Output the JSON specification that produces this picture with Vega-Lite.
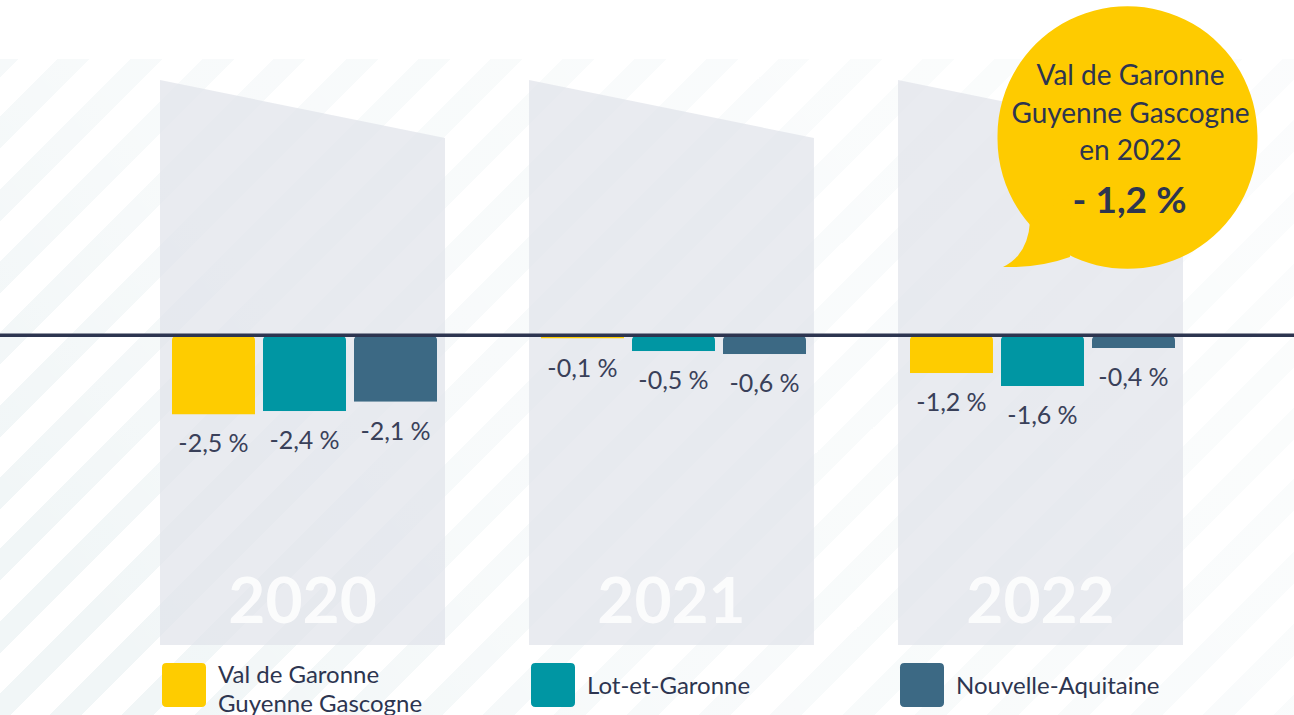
{
  "$schema": "https://vega.github.io/schema/vega-lite/v6.json",
  "width": 1294,
  "height": 715,
  "autosize": {"type": "none"},
  "padding": 0,
  "background": "#ffffff",
  "config": {"view": {"stroke": null}, "font": "Lato"},
  "datasets": {
    "growth": [
      {"year": "2020", "serie": "Val de Garonne Guyenne Gascogne", "value": -2.5, "label": "-2,5\u202f%"},
      {"year": "2020", "serie": "Lot-et-Garonne", "value": -2.4, "label": "-2,4\u202f%"},
      {"year": "2020", "serie": "Nouvelle-Aquitaine", "value": -2.1, "label": "-2,1\u202f%"},
      {"year": "2021", "serie": "Val de Garonne Guyenne Gascogne", "value": -0.1, "label": "-0,1\u202f%"},
      {"year": "2021", "serie": "Lot-et-Garonne", "value": -0.5, "label": "-0,5\u202f%"},
      {"year": "2021", "serie": "Nouvelle-Aquitaine", "value": -0.6, "label": "-0,6\u202f%"},
      {"year": "2022", "serie": "Val de Garonne Guyenne Gascogne", "value": -1.2, "label": "-1,2\u202f%"},
      {"year": "2022", "serie": "Lot-et-Garonne", "value": -1.6, "label": "-1,6\u202f%"},
      {"year": "2022", "serie": "Nouvelle-Aquitaine", "value": -0.4, "label": "-0,4\u202f%"}
    ],
    "years": [{"year": "2020"}, {"year": "2021"}, {"year": "2022"}],
    "callout": [
      {"year": "2022", "serie": "Nouvelle-Aquitaine", "heading": "Val de Garonne|Guyenne Gascogne|en 2022", "figure": "-\u202f1,2\u202f%"}
    ]
  },
  "layer": [
    {
      "data": {"values": [{}]},
      "mark": {
        "type": "rect",
        "color": {
          "gradient": "linear", "x1": 0, "y1": 0, "x2": 1.19885, "y2": 0.60777,
          "stops": [
            {"offset": 0, "color": "#f1f6f7"},
            {"offset": 0.00923, "color": "#f1f6f7"}, {"offset": 0.00923, "color": "#ffffff"},
            {"offset": 0.02974, "color": "#ffffff"}, {"offset": 0.02974, "color": "#f1f6f7"},
            {"offset": 0.04615, "color": "#f1f6f7"}, {"offset": 0.04615, "color": "#ffffff"},
            {"offset": 0.06667, "color": "#ffffff"}, {"offset": 0.06667, "color": "#f1f6f7"},
            {"offset": 0.08308, "color": "#f1f6f7"}, {"offset": 0.08308, "color": "#ffffff"},
            {"offset": 0.10359, "color": "#ffffff"}, {"offset": 0.10359, "color": "#f1f6f7"},
            {"offset": 0.12, "color": "#f1f6f7"}, {"offset": 0.12, "color": "#ffffff"},
            {"offset": 0.14051, "color": "#ffffff"}, {"offset": 0.14051, "color": "#f1f6f7"},
            {"offset": 0.15692, "color": "#f1f6f7"}, {"offset": 0.15692, "color": "#ffffff"},
            {"offset": 0.17744, "color": "#ffffff"}, {"offset": 0.17744, "color": "#f1f6f7"},
            {"offset": 0.19385, "color": "#f1f6f7"}, {"offset": 0.19385, "color": "#ffffff"},
            {"offset": 0.21436, "color": "#ffffff"}, {"offset": 0.21436, "color": "#f1f6f7"},
            {"offset": 0.23077, "color": "#f1f6f7"}, {"offset": 0.23077, "color": "#ffffff"},
            {"offset": 0.25128, "color": "#ffffff"}, {"offset": 0.25128, "color": "#f1f6f7"},
            {"offset": 0.26769, "color": "#f1f6f7"}, {"offset": 0.26769, "color": "#ffffff"},
            {"offset": 0.28821, "color": "#ffffff"}, {"offset": 0.28821, "color": "#f1f6f7"},
            {"offset": 0.30462, "color": "#f1f6f7"}, {"offset": 0.30462, "color": "#ffffff"},
            {"offset": 0.32513, "color": "#ffffff"}, {"offset": 0.32513, "color": "#f1f6f7"},
            {"offset": 0.34154, "color": "#f1f6f7"}, {"offset": 0.34154, "color": "#ffffff"},
            {"offset": 0.36205, "color": "#ffffff"}, {"offset": 0.36205, "color": "#f1f6f7"},
            {"offset": 0.37846, "color": "#f1f6f7"}, {"offset": 0.37846, "color": "#ffffff"},
            {"offset": 0.39897, "color": "#ffffff"}, {"offset": 0.39897, "color": "#f1f6f7"},
            {"offset": 0.41538, "color": "#f1f6f7"}, {"offset": 0.41538, "color": "#ffffff"},
            {"offset": 0.4359, "color": "#ffffff"}, {"offset": 0.4359, "color": "#f1f6f7"},
            {"offset": 0.45231, "color": "#f1f6f7"}, {"offset": 0.45231, "color": "#ffffff"},
            {"offset": 0.47282, "color": "#ffffff"}, {"offset": 0.47282, "color": "#f1f6f7"},
            {"offset": 0.48923, "color": "#f1f6f7"}, {"offset": 0.48923, "color": "#ffffff"},
            {"offset": 0.50974, "color": "#ffffff"}, {"offset": 0.50974, "color": "#f1f6f7"},
            {"offset": 0.52615, "color": "#f1f6f7"}, {"offset": 0.52615, "color": "#ffffff"},
            {"offset": 0.54667, "color": "#ffffff"}, {"offset": 0.54667, "color": "#f1f6f7"},
            {"offset": 0.56308, "color": "#f1f6f7"}, {"offset": 0.56308, "color": "#ffffff"},
            {"offset": 0.58359, "color": "#ffffff"}, {"offset": 0.58359, "color": "#f1f6f7"},
            {"offset": 0.6, "color": "#f1f6f7"}, {"offset": 0.6, "color": "#ffffff"},
            {"offset": 0.62051, "color": "#ffffff"}, {"offset": 0.62051, "color": "#f1f6f7"},
            {"offset": 0.63692, "color": "#f1f6f7"}, {"offset": 0.63692, "color": "#ffffff"},
            {"offset": 0.65744, "color": "#ffffff"}, {"offset": 0.65744, "color": "#f1f6f7"},
            {"offset": 0.67385, "color": "#f1f6f7"}, {"offset": 0.67385, "color": "#ffffff"},
            {"offset": 0.69436, "color": "#ffffff"}, {"offset": 0.69436, "color": "#f1f6f7"},
            {"offset": 0.71077, "color": "#f1f6f7"}, {"offset": 0.71077, "color": "#ffffff"},
            {"offset": 0.73128, "color": "#ffffff"}, {"offset": 0.73128, "color": "#f1f6f7"},
            {"offset": 0.74769, "color": "#f1f6f7"}, {"offset": 0.74769, "color": "#ffffff"},
            {"offset": 0.76821, "color": "#ffffff"}, {"offset": 0.76821, "color": "#f1f6f7"},
            {"offset": 0.78462, "color": "#f1f6f7"}, {"offset": 0.78462, "color": "#ffffff"},
            {"offset": 0.80513, "color": "#ffffff"}, {"offset": 0.80513, "color": "#f1f6f7"},
            {"offset": 0.82154, "color": "#f1f6f7"}, {"offset": 0.82154, "color": "#ffffff"},
            {"offset": 0.84205, "color": "#ffffff"}, {"offset": 0.84205, "color": "#f1f6f7"},
            {"offset": 0.85846, "color": "#f1f6f7"}, {"offset": 0.85846, "color": "#ffffff"},
            {"offset": 0.87897, "color": "#ffffff"}, {"offset": 0.87897, "color": "#f1f6f7"},
            {"offset": 0.89538, "color": "#f1f6f7"}, {"offset": 0.89538, "color": "#ffffff"},
            {"offset": 0.9159, "color": "#ffffff"}, {"offset": 0.9159, "color": "#f1f6f7"},
            {"offset": 0.93231, "color": "#f1f6f7"}, {"offset": 0.93231, "color": "#ffffff"},
            {"offset": 0.95282, "color": "#ffffff"}, {"offset": 0.95282, "color": "#f1f6f7"},
            {"offset": 0.96923, "color": "#f1f6f7"}, {"offset": 0.96923, "color": "#ffffff"},
            {"offset": 0.98974, "color": "#ffffff"}, {"offset": 0.98974, "color": "#f1f6f7"},
            {"offset": 1, "color": "#f1f6f7"}
          ]
        }
      },
      "encoding": {
        "y": {"datum": 8.735, "type": "quantitative", "axis": null, "scale": {"domain": [-12, 10.6], "nice": false, "zero": false}},
        "y2": {"datum": -12}
      }
    },
    {
      "data": {"values": [{}]},
      "mark": {
        "type": "rect",
        "color": {
          "gradient": "linear", "x1": 0, "y1": 0.7, "x2": 1, "y2": 0.3,
          "stops": [
            {"offset": 0, "color": "rgba(255,255,255,0)"},
            {"offset": 0.3, "color": "rgba(255,255,255,0.45)"},
            {"offset": 1, "color": "rgba(255,255,255,0.7)"}
          ]
        }
      },
      "encoding": {
        "y": {"datum": 8.735, "type": "quantitative"},
        "y2": {"datum": -12}
      }
    },
    {
      "data": {"name": "years"},
      "mark": {
        "type": "point",
        "shape": "M-0.5044,-1L0.5044,-0.7947L0.5044,1L-0.5044,1Z",
        "size": 319225,
        "filled": true,
        "fill": "#dfe3e9",
        "opacity": 0.7,
        "strokeWidth": 0
      },
      "encoding": {
        "x": {"field": "year", "type": "nominal", "axis": null, "scale": {"paddingInner": 0.2276, "paddingOuter": 0.3672, "align": 0.5904}},
        "y": {"datum": -0.858, "type": "quantitative"}
      }
    },
    {
      "data": {"name": "years"},
      "mark": {
        "type": "text",
        "font": "Lato",
        "fontSize": 64,
        "fontWeight": "bold",
        "fill": "#ffffff",
        "opacity": 0.85,
        "align": "center",
        "baseline": "alphabetic"
      },
      "encoding": {
        "x": {"field": "year", "type": "nominal"},
        "y": {"datum": -9.09, "type": "quantitative"},
        "text": {"field": "year"}
      }
    },
    {
      "data": {"name": "growth"},
      "mark": {"type": "bar", "cornerRadiusEnd": 5},
      "encoding": {
        "x": {"field": "year", "type": "nominal"},
        "xOffset": {
          "field": "serie", "type": "nominal",
          "sort": ["Val de Garonne Guyenne Gascogne", "Lot-et-Garonne", "Nouvelle-Aquitaine"],
          "scale": {"domain": ["Val de Garonne Guyenne Gascogne", "Lot-et-Garonne", "Nouvelle-Aquitaine"], "paddingInner": 0.0879, "paddingOuter": 0.1099, "align": 0.6}
        },
        "y": {"field": "value", "type": "quantitative"},
        "color": {
          "field": "serie", "type": "nominal",
          "scale": {
            "domain": ["Val de Garonne Guyenne Gascogne", "Lot-et-Garonne", "Nouvelle-Aquitaine"],
            "range": ["#fecc00", "#0096a3", "#3c6984"]
          },
          "legend": {
            "orient": "none",
            "legendX": 162,
            "legendY": 663,
            "direction": "horizontal",
            "title": null,
            "padding": 0,
            "symbolType": "M-0.8,-1H0.8Q1,-1 1,-0.8V0.8Q1,1 0.8,1H-0.8Q-1,1 -1,0.8V-0.8Q-1,-1 -0.8,-1Z",
            "symbolSize": 1936,
            "symbolStrokeWidth": 0,
            "symbolOpacity": 1,
            "labelFont": "Lato",
            "labelFontSize": 24,
            "labelColor": "#2d3550",
            "labelOffset": 12,
            "labelLimit": 400,
            "labelBaseline": "middle",
            "labelExpr": "datum.value == 'Val de Garonne Guyenne Gascogne' ? ['Val de Garonne', 'Guyenne Gascogne'] : [datum.label, ' ']",
            "columnPadding": 108,
            "gridAlign": "all",
            "encode": {
              "labels": {
                "update": {
                  "dy": {"signal": "datum.value == 'Val de Garonne Guyenne Gascogne' ? -9 : 2"},
                  "lineHeight": {"signal": "datum.value == 'Val de Garonne Guyenne Gascogne' ? 29 : 18"}
                }
              }
            }
          }
        }
      }
    },
    {
      "data": {"name": "growth"},
      "mark": {
        "type": "text",
        "font": "Lato",
        "fontSize": 25,
        "fill": "#394059",
        "align": "center",
        "baseline": "alphabetic",
        "dy": 38
      },
      "encoding": {
        "x": {"field": "year", "type": "nominal"},
        "xOffset": {"field": "serie", "type": "nominal", "sort": ["Val de Garonne Guyenne Gascogne", "Lot-et-Garonne", "Nouvelle-Aquitaine"]},
        "y": {"field": "value", "type": "quantitative"},
        "text": {"field": "label"}
      }
    },
    {
      "data": {"values": [{}]},
      "mark": {"type": "rule", "stroke": "#2d3550", "strokeWidth": 3.5},
      "encoding": {
        "y": {"datum": 0, "type": "quantitative"}
      }
    },
    {
      "data": {"name": "callout"},
      "mark": {
        "type": "point",
        "shape": "M-0.9714,0A0.9286,0.9286 0 1,1 0.8857,0A0.9286,0.9286 0 1,1 -0.9714,0Z",
        "size": 78400, "filled": true, "fill": "#fecb00", "opacity": 1, "strokeWidth": 0
      },
      "encoding": {
        "x": {"field": "year", "type": "nominal"},
        "xOffset": {"field": "serie", "type": "nominal", "sort": ["Val de Garonne Guyenne Gascogne", "Lot-et-Garonne", "Nouvelle-Aquitaine"]},
        "y": {"datum": 6.254, "type": "quantitative"}
      }
    },
    {
      "data": {"name": "callout"},
      "mark": {
        "type": "point",
        "shape": "M-0.739,0.6Q-0.754,0.839 -0.932,0.925Q-0.668,0.932 -0.454,0.854L-0.443,0.4Z",
        "size": 78400, "filled": true, "fill": "#fecb00", "opacity": 1, "strokeWidth": 0
      },
      "encoding": {
        "x": {"field": "year", "type": "nominal"},
        "xOffset": {"field": "serie", "type": "nominal", "sort": ["Val de Garonne Guyenne Gascogne", "Lot-et-Garonne", "Nouvelle-Aquitaine"]},
        "y": {"datum": 6.254, "type": "quantitative"}
      }
    },
    {
      "data": {"name": "callout"},
      "mark": {
        "type": "text", "font": "Lato", "fontSize": 28, "fill": "#2d3550",
        "align": "center", "baseline": "alphabetic", "lineBreak": "|", "lineHeight": 37.5, "dx": -3
      },
      "encoding": {
        "x": {"field": "year", "type": "nominal"},
        "xOffset": {"field": "serie", "type": "nominal", "sort": ["Val de Garonne Guyenne Gascogne", "Lot-et-Garonne", "Nouvelle-Aquitaine"]},
        "y": {"datum": 7.913, "type": "quantitative"},
        "text": {"field": "heading"}
      }
    },
    {
      "data": {"name": "callout"},
      "mark": {
        "type": "text", "font": "Lato", "fontSize": 37, "fontWeight": "bold", "fill": "#2d3550",
        "align": "center", "baseline": "alphabetic", "dx": -4
      },
      "encoding": {
        "x": {"field": "year", "type": "nominal"},
        "xOffset": {"field": "serie", "type": "nominal", "sort": ["Val de Garonne Guyenne Gascogne", "Lot-et-Garonne", "Nouvelle-Aquitaine"]},
        "y": {"datum": 3.867, "type": "quantitative"},
        "text": {"field": "figure"}
      }
    }
  ]
}
